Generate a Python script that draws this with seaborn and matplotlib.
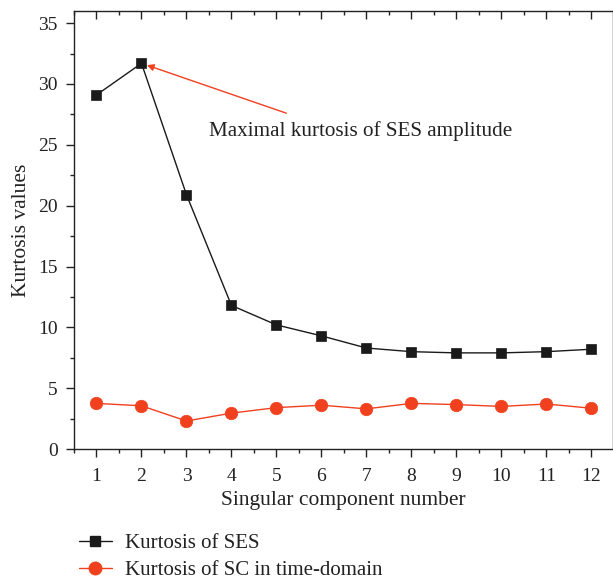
import matplotlib
matplotlib.use("Agg")
import matplotlib.pyplot as plt
import seaborn as sns
import pandas as pd
from matplotlib.ticker import MultipleLocator
from matplotlib.lines import Line2D

components = [1, 2, 3, 4, 5, 6, 7, 8, 9, 10, 11, 12]
kurt_ses = [29.1, 31.7, 20.9, 11.8, 10.2, 9.3, 8.3, 8.0, 7.9, 7.9, 8.0, 8.2]
kurt_sc = [3.75, 3.55, 2.3, 2.95, 3.4, 3.6, 3.3, 3.75, 3.65, 3.5, 3.7, 3.35]
series_names = ["Kurtosis of SES", "Kurtosis of SC in time-domain"]

sns.set_style("ticks")
plt.rcParams['font.family'] = ['Liberation Serif', 'DejaVu Serif']

df = pd.DataFrame({
    "x": components * 2,
    "y": kurt_ses + kurt_sc,
    "series": [series_names[0]] * 12 + [series_names[1]] * 12,
})

fig = plt.figure(figsize=(6.13, 5.82), dpi=100)
ax = fig.add_axes([74/613, 1 - 449/582, (612.5 - 74)/613, (449 - 11)/582])

colors = {series_names[0]: "#1a1a1a", series_names[1]: "#f0401e"}
sns.lineplot(data=df, x="x", y="y", hue="series", style="series",
             markers={series_names[0]: "s", series_names[1]: "o"},
             dashes=False, palette=colors, ax=ax, linewidth=1.0,
             markeredgewidth=0.5, legend=False)
for line, ms in zip(ax.lines, [7.5, 9]):
    line.set_markersize(ms)
    line.set_markeredgecolor(line.get_color())

ax.set_xlim(0.5, 12.47)
ax.set_ylim(0, 36)
ax.xaxis.set_major_locator(MultipleLocator(1))
ax.xaxis.set_minor_locator(MultipleLocator(0.5))
ax.yaxis.set_major_locator(MultipleLocator(5))
ax.yaxis.set_minor_locator(MultipleLocator(2.5))
for s in ax.spines.values():
    s.set_linewidth(1.0)
    s.set_color("#222222")
ax.tick_params(axis="both", which="major", direction="out", length=5.8, width=1,
               labelsize=14, colors="#222222")
ax.tick_params(axis="y", which="major", pad=6)
ax.tick_params(axis="x", which="major", pad=8)
ax.tick_params(axis="both", which="minor", direction="out", length=3.2, width=1, colors="#222222")
ax.tick_params(top=True, right=True, which="both")
# top/right ticks inward
for t in ax.xaxis.get_major_ticks() + ax.xaxis.get_minor_ticks():
    t.tick2line.set_marker(3)
for t in ax.yaxis.get_major_ticks() + ax.yaxis.get_minor_ticks():
    t.tick2line.set_marker(1)
ax.set_xlabel("Singular component number", fontsize=15.5, color="#222222", labelpad=4)
ax.set_ylabel("Kurtosis values", fontsize=15.5, color="#222222", labelpad=5)

ax.annotate("", xy=(2.12, 31.55), xytext=(5.22, 27.6),
            arrowprops=dict(arrowstyle="-|>", color="#f0401e", lw=1.0,
                            mutation_scale=10, shrinkA=0, shrinkB=0))
ax.text(3.5, 26.1, "Maximal kurtosis of SES amplitude", fontsize=15.2,
        color="#222222", va="center", ha="left")

handles = [Line2D([], [], color=colors[series_names[0]], marker="s", markersize=7.5, lw=1.0),
           Line2D([], [], color=colors[series_names[1]], marker="o", markersize=9, lw=1.0)]
fig.legend(handles, series_names, loc="upper left", bbox_to_anchor=(66/613, 1 - 521/582),
           frameon=False, fontsize=15, handlelength=1.6, labelspacing=0.35,
           handletextpad=0.65, labelcolor="#222222", borderpad=0.1)

fig.savefig("out.png", dpi=100)
